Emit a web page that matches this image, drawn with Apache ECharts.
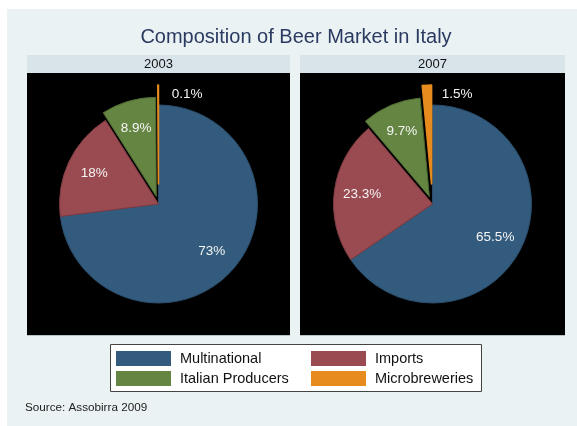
<!DOCTYPE html>
<html>
<head>
<meta charset="utf-8">
<script src="https://cdn.jsdelivr.net/npm/echarts@6/dist/echarts.min.js"></script>
<style>html,body{margin:0;padding:0;background:#fff;}#c{width:577px;height:426px;}</style>
</head>
<body>
<div id="c"></div>
<script>
const categories = ['Multinational', 'Imports', 'Italian Producers', 'Microbreweries'];
const years = ['2003', '2007'];
const share2003 = [73, 18, 8.9, 0.1];
const share2007 = [65.5, 23.3, 9.7, 1.5];
const titleText = 'Composition of Beer Market in Italy';
const sourceText = 'Source: Assobirra 2009';

const colors = ['#335b7d', '#9a4a51', '#658642', '#e88b1e'];
const borders = ['#2b4d6b', '#7e3c42', '#4f6a33', '#e88b1e'];
const FONT = 'Liberation Sans, Arial, Helvetica, sans-serif';

const panels = [
  { x: 27, w: 263, center: [158.5, 204], values: share2003 },
  { x: 300, w: 265, center: [432.5, 204], values: share2007 }
];
// explode groups: indices and offset
const groups = [
  { idx: [0, 1], offset: 0 },
  { idx: [2], offset: 8 },
  { idx: [3], offset: 20 }
];

function pieSeries(values, center, visible, offset, isLabel) {
  const s = {
    type: 'pie',
    center: center,
    radius: isLabel ? [37, 99] : [0, 99],
    startAngle: 90,
    clockwise: true,
    selectedMode: 'multiple',
    selectedOffset: offset,
    silent: true,
    animation: false,
    avoidLabelOverlap: false,
    labelLine: { show: false },
    emphasis: { disabled: true },
    label: {
      show: isLabel,
      position: 'inside',
      formatter: function (p) { return p.value + '%'; },
      color: '#f4f4f4',
      fontSize: 13.5,
      fontFamily: FONT
    },
    data: values.map(function (v, i) {
      const on = visible.indexOf(i) >= 0;
      return {
        name: categories[i],
        value: v,
        selected: on && offset > 0,
        itemStyle: (on && !isLabel)
          ? { color: colors[i], borderColor: borders[i], borderWidth: i === 3 ? 1.6 : 1 }
          : { color: 'rgba(0,0,0,0)', borderWidth: 0 },
        label: { show: isLabel && on }
      };
    })
  };
  if (isLabel && visible.indexOf(3) >= 0) {
    s.labelLayout = function (params) {
      return params.dataIndex === 3 ? { dx: 29, dy: -19 } : {};
    };
  }
  return s;
}

const series = [];
panels.forEach(function (p) {
  groups.forEach(function (g) {
    series.push(pieSeries(p.values, p.center, g.idx, g.offset, false));
    series.push(pieSeries(p.values, p.center, g.idx, g.offset, true));
  });
});

const graphic = [
  { type: 'rect', shape: { x: 7, y: 9, width: 570, height: 417 }, style: { fill: '#eaf2f4' }, z: 0, silent: true },
  { type: 'text', x: 296, y: 37, style: { text: titleText, fill: '#2a3a60', font: '20px ' + FONT, textAlign: 'center', textVerticalAlign: 'middle' }, z: 1 },
  { type: 'text', x: 25, y: 408, style: { text: sourceText, fill: '#222', font: '11.7px ' + FONT, textAlign: 'left', textVerticalAlign: 'middle' }, z: 1 },
  { type: 'rect', shape: { x: 110.5, y: 344.5, width: 371, height: 47 }, style: { fill: '#fff', stroke: '#444', lineWidth: 1 }, z: 1, silent: true }
];
panels.forEach(function (p, k) {
  graphic.push({ type: 'rect', shape: { x: p.x, y: 55, width: p.w, height: 18 }, style: { fill: '#d9e4ea' }, z: 1, silent: true });
  graphic.push({ type: 'rect', shape: { x: p.x, y: 73, width: p.w, height: 262 }, style: { fill: '#000' }, z: 1, silent: true });
  graphic.push({ type: 'rect', shape: { x: p.x, y: 335, width: p.w, height: 1 }, style: { fill: '#b9c2c6' }, z: 1, silent: true });
  graphic.push({ type: 'text', x: p.x + p.w / 2, y: 64.5, style: { text: years[k], fill: '#111', font: '13px ' + FONT, textAlign: 'center', textVerticalAlign: 'middle' }, z: 2 });
});

function legendCfg(names, left) {
  return {
    orient: 'vertical',
    left: left,
    top: 351,
    padding: 0,
    itemWidth: 55,
    itemHeight: 15,
    itemGap: 5,
    icon: 'rect',
    selectedMode: false,
    itemStyle: { borderWidth: 0 },
    textStyle: { fontSize: 14.5, color: '#111', fontFamily: FONT, padding: [0, 0, 0, 4], lineHeight: 15 },
    data: names.map(function (n) {
      return { name: n, itemStyle: { color: colors[categories.indexOf(n)], borderWidth: 0 } };
    }),
    z: 5
  };
}

const chart = echarts.init(document.getElementById('c'), null, { renderer: 'canvas' });
chart.setOption({
  backgroundColor: '#ffffff',
  animation: false,
  graphic: graphic,
  legend: [
    legendCfg([categories[0], categories[2]], 116),
    legendCfg([categories[1], categories[3]], 311)
  ],
  series: series
});
</script>
</body>
</html>
